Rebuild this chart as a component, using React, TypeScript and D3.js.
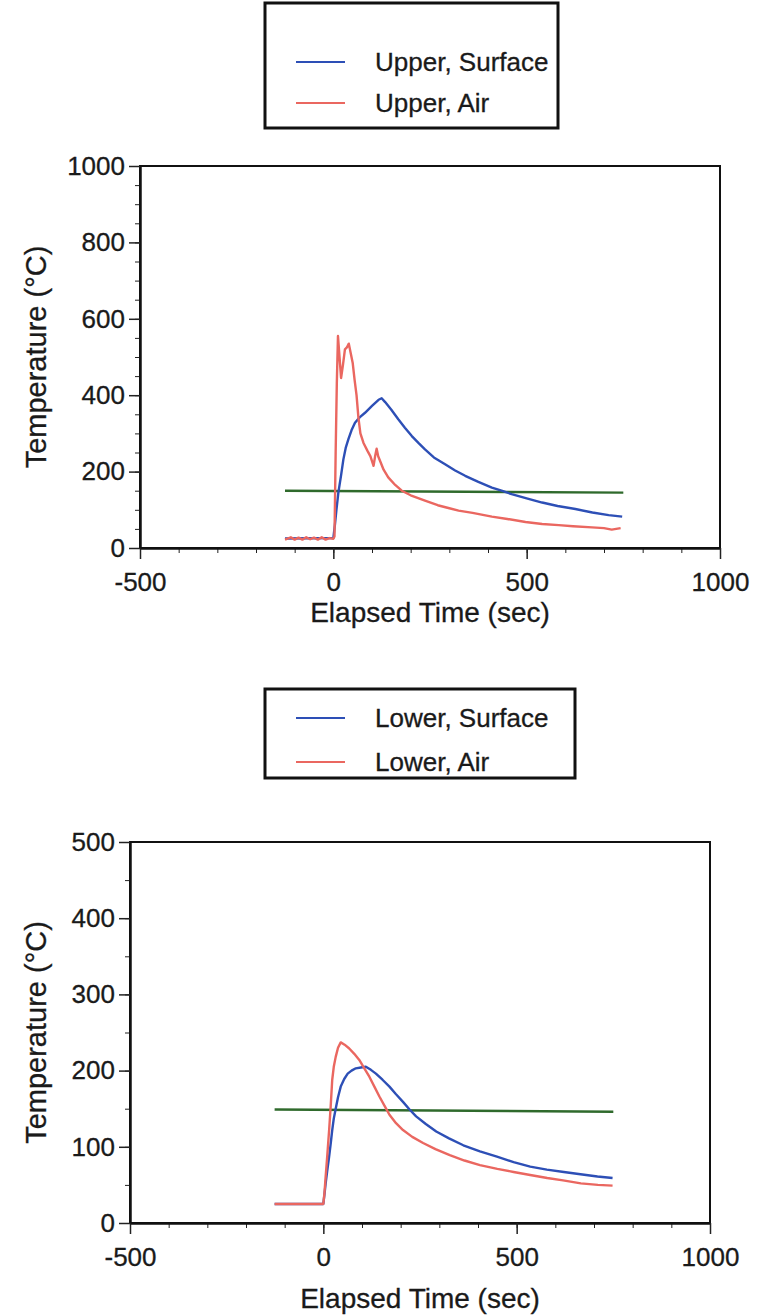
import React, { useEffect, useRef } from 'react';
import * as d3 from 'd3';

// elapsed time (sec) / temperature (°C)
const upperSurfaceT = [-125, 0, 4, 8, 13, 20, 26, 32, 39, 47, 56, 68, 82, 100, 117, 125, 134, 150, 168, 185, 203, 220, 237, 260, 289, 315, 341, 375, 410, 435, 461, 500, 540, 580, 626, 670, 712, 747];
const upperSurfaceV = [25, 26, 60, 100, 145, 190, 232, 262, 285, 308, 328, 342, 354, 372, 388, 392, 382, 362, 337, 315, 293, 275, 258, 237, 219, 203, 189, 173, 158, 150, 141, 130, 119, 110, 102, 93, 86, 82];

const upperAirT = [-125, -110, -100, -90, -80, -70, -60, -50, -40, -30, -20, -10, 0, 3, 6, 9, 12, 16, 20, 25, 30, 35, 40, 45, 50, 55, 60, 65, 70, 78, 88, 96, 104, 108, 112, 116, 122, 130, 142, 160, 177, 200, 237, 270, 300, 324, 360, 410, 450, 497, 540, 583, 620, 669, 700, 720, 743];
const upperAirV = [22, 28, 22, 27, 22, 28, 23, 27, 22, 28, 22, 26, 24, 30, 250, 430, 555, 500, 445, 480, 520, 525, 535, 510, 485, 440, 400, 340, 300, 275, 255, 240, 215, 240, 260, 240, 225, 205, 185, 165, 150, 138, 124, 112, 104, 98, 92, 82, 76, 68, 63, 60, 57, 54, 52, 48, 52];

const upperRefT = [-125, 750];
const upperRefV = [150, 145];

const lowerSurfaceT = [-126, 0, 3, 6, 10, 15, 19, 23, 27, 32, 38, 45, 54, 63, 73, 84, 97, 110, 123, 136, 153, 171, 188, 206, 223, 240, 265, 292, 325, 362, 405, 449, 492, 535, 578, 622, 665, 709, 748];
const lowerSurfaceV = [25, 25, 38, 52, 68, 87, 104, 122, 137, 150, 165, 179, 189, 196, 200, 203, 204, 205, 201, 196, 188, 179, 169, 159, 149, 140, 130, 120, 111, 102, 94, 87, 80, 74, 70, 67, 64, 61, 59];

const lowerAirT = [-126, 0, 3, 6, 10, 15, 19, 23, 27, 32, 38, 45, 55, 67, 80, 93, 106, 119, 132, 145, 158, 171, 188, 206, 230, 258, 290, 327, 365, 405, 450, 492, 535, 579, 620, 666, 710, 748];
const lowerAirV = [25, 25, 40, 61, 87, 122, 153, 188, 205, 218, 230, 237, 234, 229, 222, 214, 203, 192, 179, 166, 154, 142, 131, 122, 113, 105, 97, 89, 82, 76, 71, 67, 63, 59, 56, 52, 50, 49];

const lowerRefT = [-126, 750];
const lowerRefV = [149, 146];

const xTicks = [-500, 0, 500, 1000];
const upperYTicks = [0, 200, 400, 600, 800, 1000];
const lowerYTicks = [0, 100, 200, 300, 400, 500];

const upperLabels = ['Upper, Surface', 'Upper, Air'];
const lowerLabels = ['Lower, Surface', 'Lower, Air'];

const BLUE = '#2d4fb6';
const RED = '#ea6760';
const GREEN = '#2f6a2c';
const INK = '#1a1a1a';
const FONT = "'Liberation Sans', Arial, Helvetica, sans-serif";

const zip = (t: number[], v: number[]) => t.map((d, i) => [d, v[i]] as [number, number]);

function drawPanel(svg: any, o: any) {
  const g = svg.append('g');
  const x = d3.scaleLinear().domain([-500, 1000]).range([o.left, o.right]);
  const y = d3.scaleLinear().domain([0, o.yMax]).range([o.bottom, o.top]);

  // legend
  const lg = g.append('g');
  lg.append('rect')
    .attr('x', o.legend.x).attr('y', o.legend.y)
    .attr('width', o.legend.w).attr('height', o.legend.h)
    .attr('fill', 'none').attr('stroke', '#111').attr('stroke-width', 3);
  o.labels.forEach((lab: string, i: number) => {
    const cy = o.legend.rows[i];
    lg.append('line')
      .attr('x1', o.legend.x + 31).attr('x2', o.legend.x + 80)
      .attr('y1', cy).attr('y2', cy)
      .attr('stroke', i === 0 ? BLUE : RED).attr('stroke-width', 2);
    lg.append('text')
      .attr('x', o.legend.x + 110).attr('y', cy)
      .attr('dy', '0.35em')
      .attr('font-family', FONT).attr('font-size', 26)
      .attr('fill', INK).attr('stroke', INK).attr('stroke-width', 0.3)
      .text(lab);
  });

  // frame
  g.append('rect')
    .attr('x', o.left).attr('y', o.top)
    .attr('width', o.right - o.left).attr('height', o.bottom - o.top)
    .attr('fill', 'none').attr('stroke', '#111').attr('stroke-width', 2);

  // minor ticks (every 100 s, every 50 °C)
  g.append('g')
    .attr('transform', `translate(0,${o.bottom})`)
    .call(d3.axisBottom(x).tickValues(d3.range(-500, 1001, 100)).tickSize(5).tickFormat(() => ''))
    .call((a: any) => a.select('.domain').remove());
  g.append('g')
    .attr('transform', `translate(${o.left},0)`)
    .call(d3.axisLeft(y).tickValues(d3.range(0, o.yMax + 1, 50)).tickSize(5).tickFormat(() => ''))
    .call((a: any) => a.select('.domain').remove());

  // major axes
  const xa = g.append('g')
    .attr('transform', `translate(0,${o.bottom})`)
    .call(d3.axisBottom(x).tickValues(xTicks).tickSize(11).tickPadding(14).tickSizeOuter(0).tickFormat((d: any) => String(d)));
  const ya = g.append('g')
    .attr('transform', `translate(${o.left},0)`)
    .call(d3.axisLeft(y).tickValues(o.yTicks).tickSize(11).tickPadding(4).tickSizeOuter(0).tickFormat((d: any) => String(d)));
  [xa, ya].forEach((a: any) => {
    a.select('.domain').attr('stroke', '#111').attr('stroke-width', 2.5);
    a.selectAll('.tick line').attr('stroke', '#111').attr('stroke-width', 1.5);
    a.selectAll('.tick text')
      .attr('font-family', FONT).attr('font-size', 26)
      .attr('fill', INK).attr('stroke', INK).attr('stroke-width', 0.3);
  });
  g.selectAll('.tick line').attr('stroke', '#222');

  // series
  const line = d3.line<[number, number]>().x(d => x(d[0])).y(d => y(d[1]));
  o.series.forEach((s: any) => {
    g.append('path')
      .attr('d', line(s.pts))
      .attr('fill', 'none').attr('stroke', s.color).attr('stroke-width', 2.4)
      .attr('stroke-linejoin', 'round');
  });

  // titles
  g.append('text')
    .attr('transform', `translate(${o.yTitleX},${(o.top + o.bottom) / 2}) rotate(-90)`)
    .attr('text-anchor', 'middle').attr('dy', '0.35em')
    .attr('font-family', FONT).attr('font-size', 29)
    .attr('fill', INK).attr('stroke', INK).attr('stroke-width', 0.3)
    .text('Temperature (°C)');
  g.append('text')
    .attr('x', (o.left + o.right) / 2).attr('y', o.xTitleY)
    .attr('text-anchor', 'middle').attr('dy', '0.35em')
    .attr('font-family', FONT).attr('font-size', 28)
    .attr('fill', INK).attr('stroke', INK).attr('stroke-width', 0.3)
    .text('Elapsed Time (sec)');
}

export default function App() {
  const ref = useRef<SVGSVGElement>(null);

  useEffect(() => {
    const svg = d3.select(ref.current);
    svg.selectAll('*').remove();

    drawPanel(svg, {
      left: 140, right: 720, top: 166, bottom: 548, yMax: 1000,
      yTicks: upperYTicks, yTitleX: 36, xTitleY: 612,
      labels: upperLabels,
      legend: { x: 265, y: 3, w: 293, h: 125, rows: [62, 103] },
      series: [
        { pts: zip(upperRefT, upperRefV), color: GREEN },
        { pts: zip(upperSurfaceT, upperSurfaceV), color: BLUE },
        { pts: zip(upperAirT, upperAirV), color: RED },
      ],
    });

    drawPanel(svg, {
      left: 130, right: 710, top: 842, bottom: 1223, yMax: 500,
      yTicks: lowerYTicks, yTitleX: 36, xTitleY: 1298,
      labels: lowerLabels,
      legend: { x: 265, y: 689, w: 310, h: 89, rows: [718, 762] },
      series: [
        { pts: zip(lowerRefT, lowerRefV), color: GREEN },
        { pts: zip(lowerSurfaceT, lowerSurfaceV), color: BLUE },
        { pts: zip(lowerAirT, lowerAirV), color: RED },
      ],
    });
  }, []);

  return (
    <svg
      ref={ref}
      width={758}
      height={1316}
      style={{ position: 'absolute', left: 0, top: 0, background: '#fff' }}
    />
  );
}
